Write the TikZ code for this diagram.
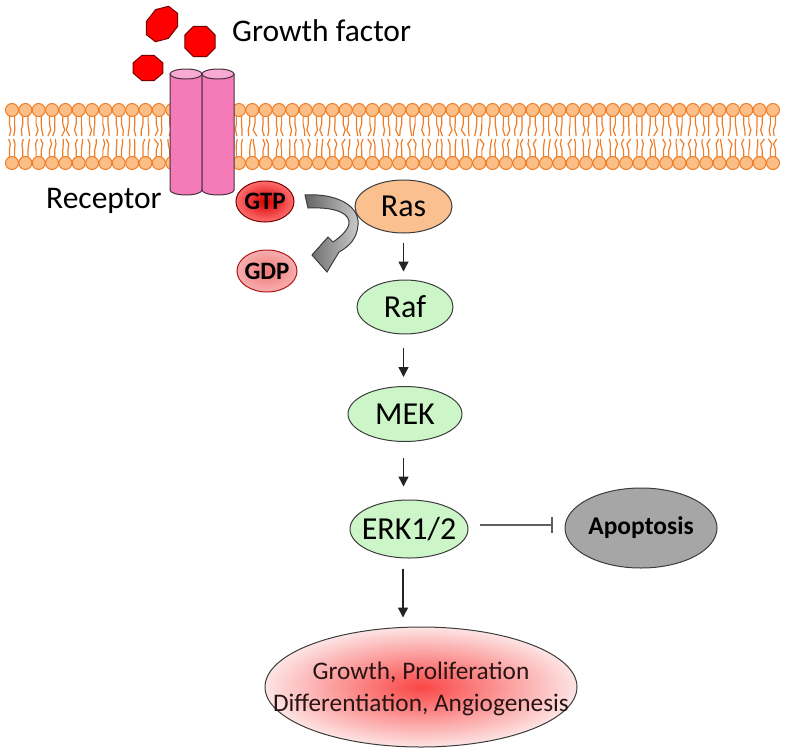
\documentclass[tikz,border=0pt]{standalone}
\usepackage{fontspec}
\setmainfont{Carlito}
\usetikzlibrary{shapes.geometric,arrows.meta,calc}
\definecolor{lipidline}{RGB}{240,125,38}
\definecolor{lipidhead}{RGB}{251,190,135}
\definecolor{recpink}{RGB}{245,123,184}
\definecolor{rectop}{RGB}{249,170,210}
\definecolor{recline}{RGB}{70,50,60}
\definecolor{gfred}{RGB}{255,0,0}
\definecolor{gfline}{RGB}{120,0,0}
\definecolor{rasor}{RGB}{250,192,144}
\definecolor{nodegreen}{RGB}{204,246,200}
\definecolor{edgegray}{RGB}{60,60,60}
\definecolor{apogray}{RGB}{166,166,166}
\definecolor{arrgray}{RGB}{35,35,35}
\newcommand{\zw}[1]{\makebox[0pt]{#1}}
\begin{document}
\begin{tikzpicture}[x=1pt,y=-1pt,
  ell/.style={ellipse, draw=edgegray, line width=1pt, inner sep=0pt, text=black},
  big/.style={font=\fontsize{32}{38}\selectfont},
  lab/.style={font=\fontsize{31.5}{37}\selectfont},
  arr/.style={-{Triangle[length=10pt,width=10pt]}, line width=1.4pt, draw=arrgray},
  inh/.style={-{Bar[width=16pt,line width=1.2pt]}, line width=1.1pt, draw=gray!75!black},
  gf/.style={fill=gfred, draw=gfline, line width=1pt},
  lip/.style={draw=lipidline, line width=1.2pt},
]
\useasboundingbox (0,0) rectangle (787,755);

% membrane tails
\pgfmathsetseed{11}
\foreach \i in {0,...,57}{
  \pgfmathsetmacro{\xx}{12+13.35*\i}
  \foreach \d in {-2.6,2.6}{
    \pgfmathsetmacro{\a}{2.2*rand}
    \pgfmathsetmacro{\b}{2.2*rand}
    \pgfmathsetmacro{\c}{2.2*rand}
    \pgfmathsetmacro{\e}{2.2*rand}
    \draw[lip] (\xx+\d,116) -- (\xx+\d,124) -- (\xx+\d+\a,130) -- (\xx+\d+\b,136);
    \draw[lip] (\xx+\d,157) -- (\xx+\d,150) -- (\xx+\d+\c,144) -- (\xx+\d+\e,139);
  }
}
% membrane heads
\foreach \i in {0,...,57}{
  \pgfmathsetmacro{\xx}{12+13.35*\i}
  \filldraw[fill=lipidhead, draw=lipidline, line width=1pt] (\xx,110) circle[radius=6.5];
  \filldraw[fill=lipidhead, draw=lipidline, line width=1pt] (\xx,163) circle[radius=6.5];
}

% receptor
\foreach \cx in {186,218}{
  \filldraw[fill=recpink, draw=recline, line width=1pt] (\cx-16,74) -- (\cx-16,190) arc[start angle=180, end angle=0, x radius=16, y radius=5] -- (\cx+16,74) -- cycle;
  \filldraw[fill=rectop, draw=recline, line width=1pt] (\cx,74) ellipse[x radius=16, y radius=5];
}

% growth factor octagons
\begin{scope}[shift={(162,24)}, rotate=52, xscale=1.3]
  \filldraw[gf] (22.5:15) \foreach \k in {1,...,7}{ -- (22.5+45*\k:15)} -- cycle;
\end{scope}
\begin{scope}[shift={(200,41.5)}]
  \filldraw[gf] (22.5:16.5) \foreach \k in {1,...,7}{ -- (22.5+45*\k:16.5)} -- cycle;
\end{scope}
\begin{scope}[shift={(148,68)}, yscale=0.85]
  \filldraw[gf] (22.5:16) \foreach \k in {1,...,7}{ -- (22.5+45*\k:16)} -- cycle;
\end{scope}

% labels
\node[anchor=base west, inner sep=0pt, lab] (gflabel) at (232,41) {Growth factor};
\node[anchor=base west, inner sep=0pt, lab] (reclabel) at (46,208) {Receptor};

% GTP / GDP
\node[ell, draw=gfline, shade, inner color={rgb,255:red,215;green,0;blue,0}, outer color={rgb,255:red,255;green,110;blue,110}, minimum width=58, minimum height=41, font=\fontsize{25}{29}\selectfont\bfseries] (gtp) at (265,201.5) {\zw{GTP}};
\node[ell, draw={rgb,255:red,180;green,20;blue,20}, shade, inner color={rgb,255:red,240;green,120;blue,120}, outer color={rgb,255:red,247;green,175;blue,175}, minimum width=60, minimum height=42, font=\fontsize{25}{29}\selectfont\bfseries] (gdp) at (267,271) {\zw{GDP}};

% curved block arrow
\path[draw={rgb,255:red,60;green,60;blue,60}, line width=1pt, left color={rgb,255:red,100;green,100;blue,100}, right color={rgb,255:red,205;green,205;blue,205}]
  (305,195) .. controls (335,193) and (360,205) .. (358,225)
  .. controls (357,238) and (350,246) .. (339,252)
  -- (327,272) -- (312,255) -- (328,237) -- (333,242)
  .. controls (342,236) and (350,228) .. (349,221)
  .. controls (347,211) and (330,207) .. (308,208) -- cycle;

% pathway nodes
\node[ell, fill=rasor, minimum width=97, minimum height=53, big] (ras) at (403.5,206.5) {\zw{Ras}};
\node[ell, fill=nodegreen, minimum width=96, minimum height=54, big] (raf) at (405,307) {\zw{Raf}};
\node[ell, fill=nodegreen, minimum width=114, minimum height=55, big] (mek) at (405,414) {\zw{MEK}};
\node[ell, fill=nodegreen, minimum width=118, minimum height=58, big] (erk) at (409,529) {\zw{ERK1/2}};
\node[ell, fill=apogray, minimum width=152, minimum height=80, font=\fontsize{25.5}{30}\selectfont\bfseries] (apo) at (641,528) {\zw{Apoptosis}};
\node[ell, shade, inner color={rgb,255:red,250;green,70;blue,70}, outer color={rgb,255:red,253;green,228;blue,228}, minimum width=312, minimum height=120] (outcome) at (421,687) {};
\node[align=center, inner sep=0pt, font=\fontsize{25.3}{32}\selectfont, text={rgb,255:red,40;green,20;blue,20}] (outcometext) at ([yshift=-2pt]outcome.center) {Growth, Proliferation\\Differentiation, Angiogenesis};

% connectors
\draw[arr, shorten <=9pt, shorten >=8pt] (ras.south) -- (ras.south |- raf.north);
\draw[arr, shorten <=13pt, shorten >=9pt] ([xshift=-1.5pt]raf.south) -- ([xshift=-1.5pt]raf.south |- mek.north);
\draw[arr, shorten <=16pt, shorten >=13pt] ([xshift=-1.5pt]mek.south) -- ([xshift=-1.5pt]mek.south |- erk.north);
\draw[arr, shorten <=10pt, shorten >=9pt] ([xshift=-6pt]erk.south) -- ([xshift=-6pt]erk.south |- outcome.north);
\draw[inh, shorten <=11pt, shorten >=12pt] ([yshift=4pt]erk.east) -- ([yshift=4pt]erk.east -| apo.west);
\end{tikzpicture}
\end{document}
